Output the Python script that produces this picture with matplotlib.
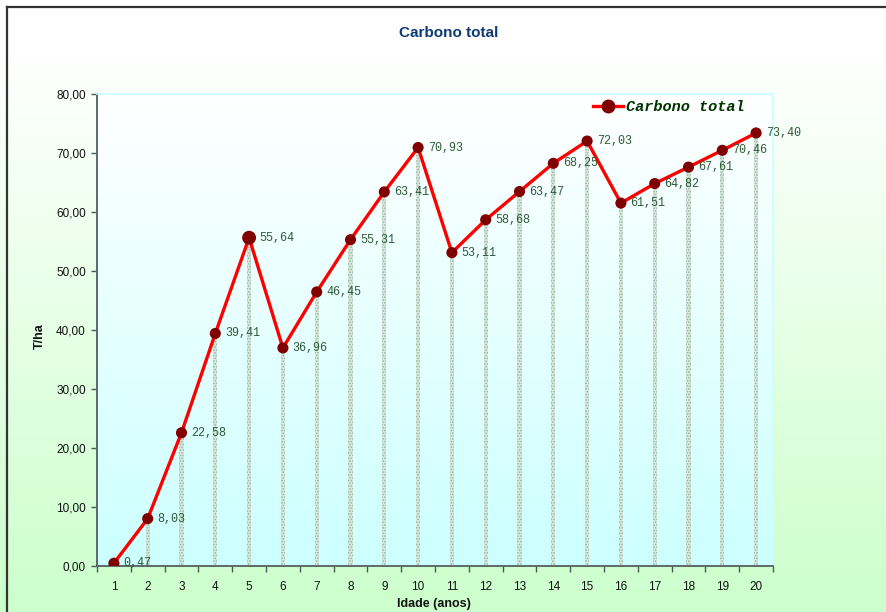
import matplotlib
matplotlib.use("Agg")
import matplotlib.pyplot as plt
import numpy as np
from matplotlib.ticker import FuncFormatter
from matplotlib.lines import Line2D
from matplotlib.colors import LinearSegmentedColormap

# Stand age (years) and total carbon stock (t/ha)
ages = list(range(1, 21))
carbon = [0.47, 8.03, 22.58, 39.41, 55.64, 36.96, 46.45, 55.31, 63.41, 70.93,
          53.11, 58.68, 63.47, 68.25, 72.03, 61.51, 64.82, 67.61, 70.46, 73.40]
y_ticks = [0, 10, 20, 30, 40, 50, 60, 70, 80]

title = "Carbono total"
series_name = "Carbono total"
x_title = "Idade (anos)"
y_title = "T/ha"


def br(v):
    return f"{v:.2f}".replace(".", ",")


plt.rcParams["font.family"] = ["Liberation Sans", "DejaVu Sans"]
plt.rcParams["hatch.linewidth"] = 0.8

W, H = 887, 612
fig = plt.figure(figsize=(W / 100, H / 100), dpi=100)

# figure background: white fading to pale green
bg = fig.add_axes([0, 0, 1, 1], zorder=-10)
bg_cmap = LinearSegmentedColormap.from_list(
    "bgf", [(0, "#ffffff"), (0.08, "#ffffff"), (1, "#ccffcc")])
grad = np.linspace(0, 1, 256).reshape(-1, 1)
bg.imshow(grad, extent=[0, 1, 0, 1], aspect="auto", cmap=bg_cmap, origin="upper")
bg.set_xlim(0, 1)
bg.set_ylim(0, 1)
bg.plot([7 / W, 7 / W], [0, 1 - 7 / H], color="#333333", lw=1.6)
bg.plot([7 / W, 1], [1 - 7 / H, 1 - 7 / H], color="#333333", lw=1.6)
bg.axis("off")

ax = fig.add_axes([97 / W, 1 - 566 / H, (773 - 97) / W, (566 - 94) / H])
ax.set_xlim(0.5, 20.5)
ax.set_ylim(0, 80)

# plot area background: white fading to pale cyan
pa_cmap = LinearSegmentedColormap.from_list("pa", ["#ffffff", "#ccffff"])
ax.imshow(grad, extent=[0.5, 20.5, 0, 80], aspect="auto", cmap=pa_cmap,
          origin="upper", zorder=0)

# drop bars under each point
ax.bar(ages, carbon, width=0.13, color="#dce8df", edgecolor="#8cb898",
       hatch="......", linewidth=0, zorder=2)

ax.plot(ages, carbon, color="#ff0000", lw=2.4, zorder=3, solid_joinstyle="round")
sizes = [64] * len(ages)
sizes[4] = 100
ax.scatter(ages, carbon, s=sizes, color="#800000", zorder=4, linewidths=0)

for x, v in zip(ages, carbon):
    ax.annotate(br(v), (x, v), xytext=(7, 0), textcoords="offset points",
                ha="left", va="center", fontfamily="Liberation Mono",
                fontsize=8.5, color="#2e5a36", zorder=5)

ax.set_yticks(y_ticks)
ax.yaxis.set_major_formatter(FuncFormatter(lambda v, p: br(v)))
ax.set_xticks(ages)
ax.set_xticks(np.arange(0.5, 21, 1), minor=True)
ax.tick_params(axis="y", length=4, width=1, color="#4a5a5a", labelsize=8.5,
               pad=4, labelcolor="#111111")
ax.tick_params(axis="x", which="major", length=0, pad=11, labelsize=8.5,
               labelcolor="#111111")
ax.tick_params(axis="x", which="minor", length=4, width=1, color="#4a5a5a")

for s in ("left", "bottom"):
    ax.spines[s].set_color("#5a6a6a")
    ax.spines[s].set_linewidth(1.4)
for s in ("top", "right"):
    ax.spines[s].set_color("#c8ffff")
    ax.spines[s].set_linewidth(1.2)

handle = Line2D([], [], color="#ff0000", lw=2.4, marker="o", markersize=9,
                markerfacecolor="#800000", markeredgecolor="#800000")
leg = ax.legend([handle], [series_name], loc="upper right",
                bbox_to_anchor=(1.0 - 22 / 676, 1.0), frameon=True, fancybox=False,
                handlelength=2.0, handletextpad=0.2, borderpad=0.3,
                borderaxespad=0.1,
                prop={"family": "Liberation Mono", "weight": "bold",
                      "style": "italic", "size": 11})
leg.get_frame().set_facecolor("#ffffff")
leg.get_frame().set_edgecolor("none")
leg.set_zorder(6)
for t in leg.get_texts():
    t.set_color("#003300")

fig.text(449 / W, 1 - 33 / H, title, ha="center", va="center",
         fontsize=11, fontweight="bold", color="#0d3c73")
fig.text(434 / W, 1 - 604 / H, x_title, ha="center", va="center",
         fontsize=9, fontweight="bold", color="#111111")
fig.text(40 / W, 1 - 336 / H, y_title, ha="center", va="center", rotation=90,
         fontsize=9, fontweight="bold", color="#111111")

fig.savefig("out.png", dpi=100)
